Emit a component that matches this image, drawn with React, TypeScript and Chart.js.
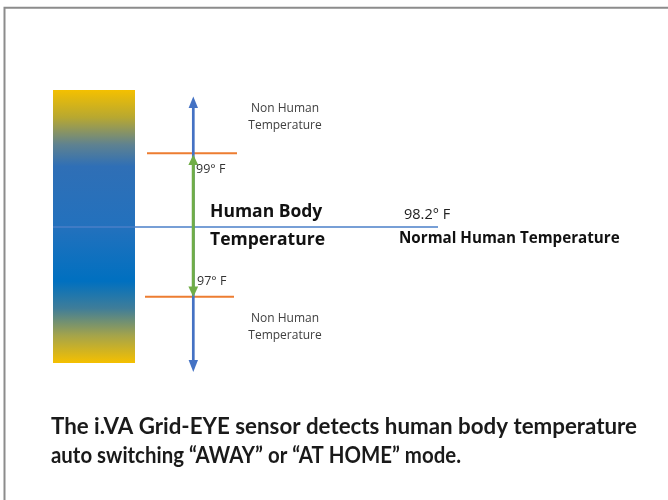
import React, { useEffect, useRef } from "react";
import { Chart, registerables } from "chart.js";

Chart.register(...registerables);

// Diagram coordinate space (x: 0..668, y: 0..500 top-down)
const frame = [
  { x: 4.5, y: 500 },
  { x: 4.5, y: 7.8 },
  { x: 668, y: 7.8 },
];
const barX = [53, 135];
const barY = [90, 363];
const gradientStops: [number, string][] = [
  [0, "#f4c000"],
  [0.1, "#b8a830"],
  [0.2, "#5f8290"],
  [0.28, "#2f6fb6"],
  [0.5, "#2371bd"],
  [0.7, "#0070c0"],
  [0.8, "#3f7d99"],
  [0.9, "#a5a44a"],
  [1, "#f5c000"],
];
const normalLine = [
  { x: 53, y: 227 },
  { x: 438, y: 227 },
];
const blueShaft = [
  { x: 193.3, y: 104 },
  { x: 193.3, y: 364 },
];
const blueHeadTop = [
  { x: 193.3, y: 96.5 },
  { x: 198, y: 108 },
  { x: 188.6, y: 108 },
  { x: 193.3, y: 96.5 },
];
const blueHeadBottom = [
  { x: 193.3, y: 372 },
  { x: 198, y: 360 },
  { x: 188.6, y: 360 },
  { x: 193.3, y: 372 },
];
const upperLimit = [
  { x: 147, y: 153.3 },
  { x: 237, y: 153.3 },
];
const lowerLimit = [
  { x: 145, y: 296.7 },
  { x: 234, y: 296.7 },
];
const greenShaft = [
  { x: 193.3, y: 160 },
  { x: 193.3, y: 291 },
];
const greenHeadTop = [
  { x: 193.3, y: 154.5 },
  { x: 198.2, y: 165 },
  { x: 188.4, y: 165 },
  { x: 193.3, y: 154.5 },
];
const greenHeadBottom = [
  { x: 193.3, y: 297 },
  { x: 198.2, y: 286.5 },
  { x: 188.4, y: 286.5 },
  { x: 193.3, y: 297 },
];

const labelTexts = [
  "Non Human",
  "Temperature",
  "Non Human",
  "Temperature",
  "99° F",
  "97° F",
  "Human Body",
  "Temperature",
  "98.2° F",
  "Normal Human Temperature",
  "The i.VA Grid-EYE sensor detects human body temperature",
  "auto switching “AWAY” or “AT HOME” mode.",
];
const labelX = [285, 285, 285, 285, 196, 197, 210, 210, 404, 399, 51, 51];
const labelY = [109, 126, 319, 336, 169, 281, 212, 240, 215, 239, 434, 463];
const labelAlign = ["center", "center", "center", "center", "left", "left", "left", "left", "left", "left", "left", "left"];
const labelBaseline = ["middle", "middle", "middle", "middle", "middle", "middle", "middle", "middle", "middle", "middle", "alphabetic", "alphabetic"];
const labelFont = [
  "12px 'Open Sans'",
  "12px 'Open Sans'",
  "12px 'Open Sans'",
  "12px 'Open Sans'",
  "12.5px 'Open Sans'",
  "12.5px 'Open Sans'",
  "bold 17.5px 'Open Sans'",
  "bold 17.5px 'Open Sans'",
  "14.5px 'Open Sans'",
  "bold 15.2px 'Open Sans'",
  "bold 22.4px Lato",
  "bold 22.4px Lato",
];
const labelColor = ["#404040", "#404040", "#404040", "#404040", "#333", "#333", "#111", "#111", "#222", "#111", "#1a1a1a", "#1a1a1a"];
const labelMaxW = [72, 76, 72, 76, 31, 31, 116, 117, 51, 223, 586, 410];

const textPlugin = {
  id: "diagramText",
  afterDraw(chart: any) {
    const { ctx, scales } = chart;
    ctx.save();
    labelTexts.forEach((t, i) => {
      ctx.font = labelFont[i];
      ctx.fillStyle = labelColor[i];
      ctx.textAlign = labelAlign[i];
      ctx.textBaseline = labelBaseline[i];
      const px = scales.x.getPixelForValue(labelX[i]);
      const py = scales.y.getPixelForValue(labelY[i]);
      ctx.fillText(t, px, py, labelMaxW[i]);
    });
    ctx.restore();
  },
};

function line(data: any[], color: string, width: number, order: number) {
  return {
    data,
    order,
    showLine: true,
    borderColor: color,
    borderWidth: width,
    pointRadius: 0,
    fill: false,
    tension: 0,
  };
}
function poly(data: any[], color: any, order: number) {
  return {
    data,
    order,
    showLine: true,
    borderColor: "rgba(0,0,0,0)",
    borderWidth: 0,
    backgroundColor: color,
    pointRadius: 0,
    fill: "shape",
    tension: 0,
  };
}

export default function App() {
  const ref = useRef<HTMLCanvasElement>(null);
  useEffect(() => {
    document.body.style.margin = "0";
    const barPoly = [
      { x: barX[0], y: barY[0] },
      { x: barX[1], y: barY[0] },
      { x: barX[1], y: barY[1] },
      { x: barX[0], y: barY[1] },
      { x: barX[0], y: barY[0] },
    ];
    const gradientFill = (c: any) => {
      const chart = c.chart;
      if (!chart.chartArea) return "#2371bd";
      const y0 = chart.scales.y.getPixelForValue(barY[0]);
      const y1 = chart.scales.y.getPixelForValue(barY[1]);
      const g = chart.ctx.createLinearGradient(0, y0, 0, y1);
      gradientStops.forEach(([o, col]) => g.addColorStop(o, col));
      return g;
    };
    // higher "order" is drawn first (underneath)
    const chart = new Chart(ref.current!, {
      type: "scatter",
      data: {
        datasets: [
          line(frame, "#8c8c8c", 2, 11),
          poly(barPoly, gradientFill, 10),
          line(normalLine, "#4a7fc8", 1.4, 9),
          line(upperLimit, "#ed7d31", 2, 8),
          line(lowerLimit, "#ed7d31", 2, 7),
          line(blueShaft, "#4472c4", 2.7, 6),
          poly(blueHeadTop, "#4472c4", 5),
          poly(blueHeadBottom, "#4472c4", 4),
          line(greenShaft, "#70ad47", 3, 3),
          poly(greenHeadTop, "#70ad47", 2),
          poly(greenHeadBottom, "#70ad47", 1),
        ] as any,
      },
      options: {
        animation: false,
        responsive: true,
        maintainAspectRatio: false,
        layout: { padding: 0 },
        plugins: { legend: { display: false }, tooltip: { enabled: false } },
        scales: {
          x: { type: "linear", min: 0, max: 668, display: false },
          y: { type: "linear", min: 0, max: 500, reverse: true, display: false },
        },
      },
      plugins: [textPlugin],
    });
    return () => chart.destroy();
  }, []);
  return (
    <div style={{ position: "absolute", left: 0, top: 0, width: 668, height: 500, background: "#fff" }}>
      <canvas ref={ref} />
    </div>
  );
}
